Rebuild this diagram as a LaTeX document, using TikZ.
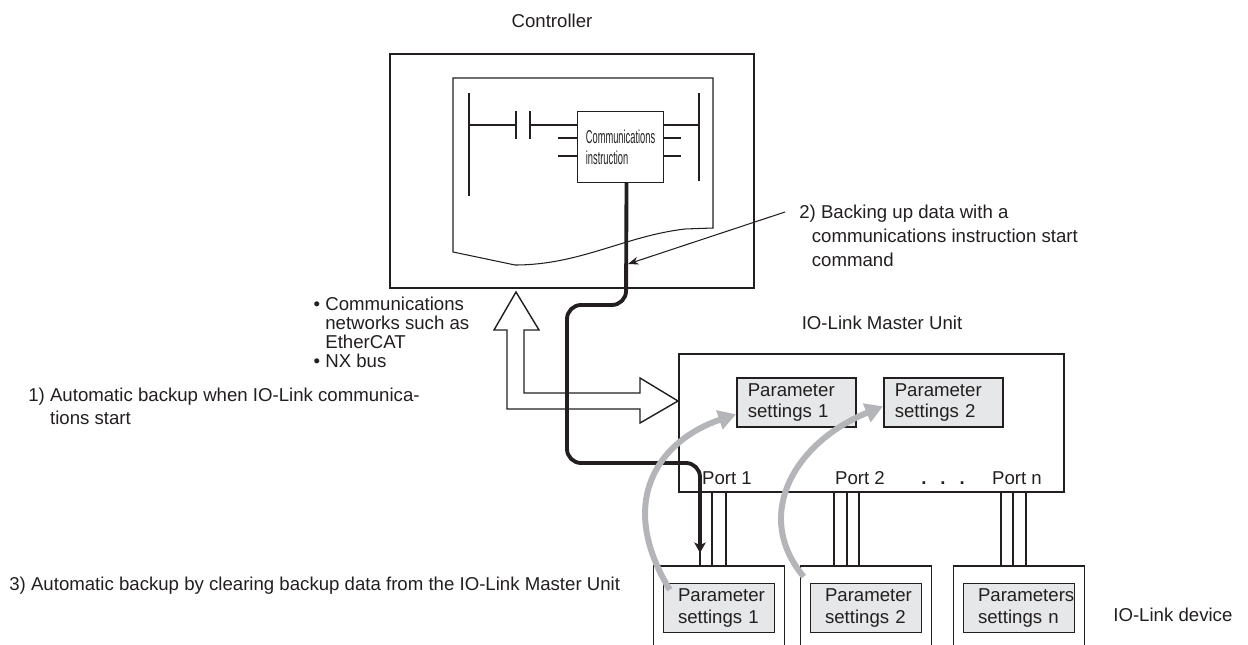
\documentclass[tikz,border=0pt]{standalone}
\usepackage{fontspec}
\setmainfont{Liberation Sans}
\newfontfamily\narrowfont[FakeStretch=0.5]{Liberation Sans}
\usepackage{xcolor}
\usetikzlibrary{calc, arrows.meta}
\definecolor{ink}{HTML}{231F20}
\definecolor{paper}{HTML}{E6E7E8}
\definecolor{shade}{HTML}{B3B5B8}

\begin{document}
\begin{tikzpicture}[x=0.02cm, y=-0.02cm,
    txt/.style={font=\fontsize{10.6}{12.7}\selectfont, text=ink, inner sep=0pt},
    frame/.style={draw=ink, line width=0.9pt, inner sep=0pt},
    wire/.style={draw=ink, line width=0.6pt},
    param/.style={frame, fill=paper, txt, align=left, minimum height=0.98cm, font=\fontsize{10.6}{12.2}\selectfont},
    dev/.style={minimum width=2.6cm, minimum height=1.58cm, inner sep=0pt, anchor=north},
    link/.style={draw=ink, line width=2.2pt, rounded corners=8pt},
    backup/.style={draw=shade, line width=3.4pt, -{Triangle[length=10pt, width=11pt]}}]
                \useasboundingbox (0,0) rectangle (1248,645);
                \node[txt, anchor=base] (ctrllbl) at (552,28) {Controller};
                \node[frame, line width=1.1pt, anchor=north west, minimum width=7.28cm, minimum height=4.68cm] (ctrl) at (389,53) {};
                \draw[wire] (453,252) -- (453,78) -- (713,78) -- (713,228) -- (685,229) .. controls (625,236) and (580,265) .. (515,265) -- cycle;
                \draw[wire] (469,93) -- (469,196) (699,93) -- (699,181);
                \node[frame, line width=0.6pt, anchor=north west, minimum width=1.72cm, minimum height=1.42cm, align=left, text=ink, font=\narrowfont\fontsize{10.6}{11.9}\selectfont] (instr) at (577,111) {Communications\\instruction};
                \draw[wire] (469,125) -- (516,125) (516,111) -- (516,139) (530,111) -- (530,139);
                \draw[wire] (530,125) -- (instr.west |- 0,125);
                \draw[wire] (instr.east |- 0,125) -- (699,125);
                \foreach \y in {138,156} {
                    \draw[wire] (558,\y) -- (instr.west |- 0,\y);
                    \draw[wire] (instr.east |- 0,\y) -- (681,\y);
                }
                \draw[wire, line width=0.8pt, fill=white] (516,292) -- (539,330) -- (524,330) -- (524,393) -- (640,393) -- (640,378) -- (678,401) -- (640,423) -- (640,409) -- (507,409) -- (507,330) -- (494,330) -- cycle;
                \node[txt, anchor=base] (mlbl) at (882,330) {IO-Link Master Unit};
                \node[frame, anchor=north west, minimum width=7.7cm, minimum height=2.76cm] (master) at (678,353) {};
                \node[param, anchor=north west, minimum width=2.38cm, text width=1.94cm, inner xsep=0.22cm] (ms1) at (736,377) {Parameter\\settings 1};
                \node[param, anchor=north west, minimum width=2.38cm, text width=1.94cm, inner xsep=0.22cm] (ms2) at (883,377) {Parameter\\settings 2};
                \foreach \n/\x in {1/719, 2/866, n/1019} {
                    \node[dev] (dev\n) at (\x,566) {};
                    \draw[frame] (dev\n.south west) |- (dev\n.north east) -- (dev\n.south east);
                }
                \node[param, minimum width=2.22cm, text width=1.64cm, inner xsep=0.29cm] (dv1) at (dev1.center |- 0,608) {Parameter\\settings 1};
                \node[param, minimum width=2.22cm, text width=1.64cm, inner xsep=0.29cm] (dv2) at (dev2.center |- 0,608) {Parameter\\settings 2};
                \node[param, minimum width=2.22cm, text width=1.64cm, inner xsep=0.29cm] (dvn) at (devn.center |- 0,608) {Parameters\\settings n};
                \foreach \x/\d in {700/dev1, 712/dev1, 726/dev1, 834/dev2, 847/dev2, 859/dev2, 1001/devn, 1013/devn, 1026/devn}
                    \draw[wire] (\x,0 |- master.south) -- (\x,0 |- \d.north);
                \node[txt, anchor=base] (port1) at (727,484) {Port 1};
                \node[txt, anchor=base] (port2) at (860,484) {Port 2};
                \node[txt, anchor=base] (dots) at (943,484) {\textbf{.\hspace{0.28cm}.\hspace{0.28cm}.}};
                \node[txt, anchor=base] (portn) at (1017,484) {Port n};
                \coordinate (p1tip) at (700,553);
                \draw[link, -{Stealth[length=6pt, width=6.5pt, inset=1.5pt]}] ($(instr.south)+(6,0)$) -- (626,305) -- (567,305) -- (567,463) -- (700,463) -- (p1tip);
                \coordinate (bak2tip) at (628,264);
                \node[txt, anchor=north west, align=left, font=\fontsize{10.6}{13.6}\selectfont] (bak2) at (799,205) {2) Backing up data with a\\\hspace*{0.25cm}communications instruction start\\\hspace*{0.25cm}command};
                \draw[wire, -{Stealth[length=6pt, width=4.5pt]}] ($(bak2.north west)+(-14,7)$) -- (bak2tip);
                \node[txt, anchor=north west, align=left, font=\fontsize{10.6}{10.8}\selectfont] (nets) at (325,297) {\llap{\textbullet\ }Communications\\networks such as\\EtherCAT\\\llap{\textbullet\ }NX bus};
                \node[txt, anchor=north west, align=left, font=\fontsize{10.6}{13}\selectfont] (bak1) at (28,388) {1) Automatic backup when IO-Link communica-\\\phantom{1) }tions start};
                \node[txt, anchor=base west] (bak3) at (9,590) {3) Automatic backup by clearing backup data from the IO-Link Master Unit};
                \node[txt, anchor=base west] (devlbl) at (1113,621) {IO-Link device};
                \draw[backup] ($(dv1.north west)+(7,7)$) .. controls (615,500) and (660,440) .. ($(ms1.west)+(0,12)$);
                \draw[backup] ($(dv2.north west)+(-6,-6)$) .. controls (752,515) and (795,442) .. ($(ms2.west)+(0,4)$);
            \end{tikzpicture}
\end{document}
